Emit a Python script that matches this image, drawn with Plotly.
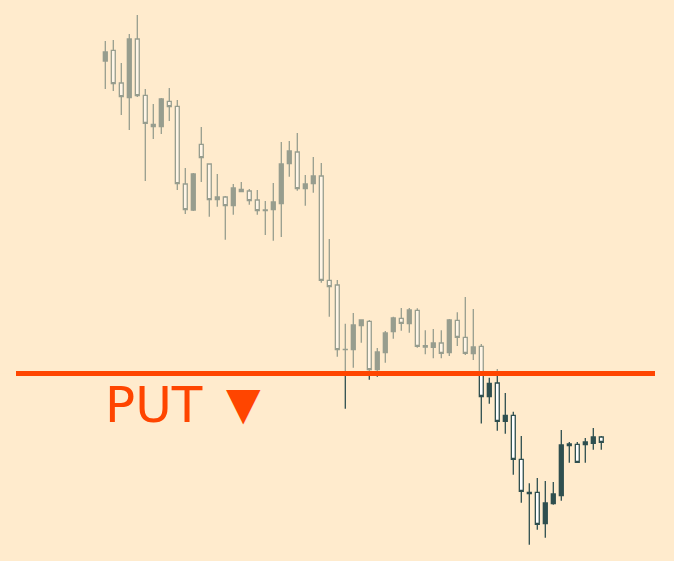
import plotly.graph_objects as go

# candle index (one per bar)
idx = list(range(63))
opens = [500, 510.7, 478, 463.3, 522, 465.7, 436.7, 434.3, 459.7, 454.7,
         377, 351, 416.7, 397, 361.3, 364, 355.3, 371.7, 370, 361,
         351, 351.3, 357.3, 397.3, 409, 372.3, 377.3, 385, 280.7, 276,
         211.7, 211.3, 235.3, 239.7, 191.3, 208.3, 229.3, 242.7, 237.3, 250.7,
         215.3, 213.7, 218, 208.3, 240.7, 223.7, 207.3, 214.7, 164.5, 178,
         139.7, 145.7, 101.7, 67.3, 68.7, 37.3, 57.3, 65.3, 115.3, 116.7,
         116.3, 117.7, 124]
highs = [520, 521, 498, 527, 546, 472, 457, 463, 473, 461,
         393, 388, 434, 397, 387, 365, 377, 379, 372, 371,
         360, 378, 419, 420, 428, 386, 404, 398, 322, 281,
         237.3, 248, 241, 241, 213, 230, 244.3, 253, 253, 252.7,
         230.7, 232, 230.7, 242, 248.7, 264, 252, 217, 183.3, 192,
         168, 149.3, 125, 77.7, 83, 80, 79, 131, 119, 119,
         123, 133, 125]
lows = [472, 470, 446, 431, 464, 380, 422, 427, 440, 371,
        347, 350, 379, 344.3, 354.3, 321.3, 346.3, 369.7, 356.3, 346.3,
        326, 320.3, 324, 384.3, 370.3, 355.3, 368.3, 278.3, 244.3, 204.3,
        152.3, 193.3, 218.3, 181.3, 184.3, 198.3, 222.3, 230.3, 228.3, 213.3,
        206.7, 202.7, 202.7, 205, 215, 206, 201, 137.5, 157.3, 130.3,
        127.3, 86.3, 58.3, 16.3, 31.3, 23.3, 56.3, 60.3, 98.3, 98.3,
        98.3, 111.3, 111.3]
closes = [509, 477.3, 464.3, 522, 465.3, 437.7, 434.3, 462, 454.3, 377.3,
          351.3, 387, 403.3, 361.3, 364, 355.3, 373, 369.3, 360.3, 350.3,
          350.3, 359, 397, 410, 372.3, 377, 385, 280.7, 274.3, 211.3,
          211.3, 236, 241, 191.3, 209, 228, 243, 237.7, 251, 214.7,
          214, 218, 207.7, 241, 223.7, 207.7, 214, 164.5, 177.7, 139.7,
          145.7, 101.7, 69.7, 68.7, 36.7, 58, 67, 116, 117, 98.7,
          119, 124, 118.7]

put_level = 187.5
label_text = "PUT"
arrow_text = "▼"

BG = "#FFEBCD"
DARK = "#2F4F4F"
RED = "#FF4500"

fig = go.Figure()
fig.add_trace(go.Candlestick(
    x=idx, open=opens, high=highs, low=lows, close=closes,
    increasing=dict(line=dict(color=DARK, width=1.3), fillcolor=DARK),
    decreasing=dict(line=dict(color=DARK, width=1.3), fillcolor="#FFFFFF"),
    whiskerwidth=0, showlegend=False, hoverinfo="skip",
))

# fade overlay above the level
fig.add_shape(type="rect", xref="paper", x0=0, x1=1, yref="y",
              y0=put_level, y1=561, fillcolor=BG, opacity=0.5,
              line=dict(width=0), layer="above")
# level line
fig.add_shape(type="line", xref="paper", x0=16/674, x1=655/674, yref="y",
              y0=put_level, y1=put_level, line=dict(color=RED, width=5),
              layer="above")

fig.add_annotation(text=label_text, xref="paper", yref="paper",
                   x=103/674, y=1-405/561, xanchor="left", yanchor="middle",
                   showarrow=False,
                   font=dict(family="DejaVu Sans", size=50, color=RED))
fig.add_annotation(text=arrow_text, xref="paper", yref="paper",
                   x=243.5/674, y=1-403.5/561, xanchor="center", yanchor="middle",
                   showarrow=False,
                   font=dict(family="DejaVu Sans", size=45, color=RED))

fig.update_layout(
    width=674, height=561, margin=dict(l=0, r=0, t=0, b=0),
    paper_bgcolor=BG, plot_bgcolor=BG, boxgap=0.3,
    xaxis=dict(visible=False, range=[-105.3/8, (674-105.3)/8],
               rangeslider=dict(visible=False), fixedrange=True),
    yaxis=dict(visible=False, range=[0, 561], fixedrange=True),
    showlegend=False,
)
fig.write_html("out.html", config={"displayModeBar": False},
               post_script="document.body.style.margin='0';"
                           "document.body.style.background='#FFEBCD';")
